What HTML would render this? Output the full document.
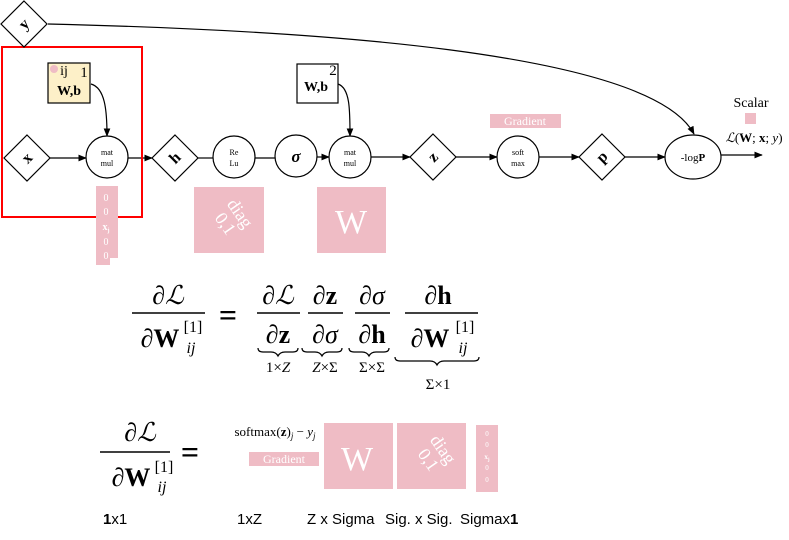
<!DOCTYPE html>
<html><head><meta charset="utf-8"><style>
html,body{margin:0;padding:0;background:#fff;}
svg{display:block;}
.serif{font-family:"Liberation Serif",serif;}
.sans{font-family:"Liberation Sans",sans-serif;}
</style></head><body>
<svg width="789" height="540" viewBox="0 0 789 540" xmlns="http://www.w3.org/2000/svg">
<defs>
<marker id="ar" viewBox="0 0 10 10" refX="9" refY="5" markerWidth="7" markerHeight="7" orient="auto"><path d="M0,1 L10,5 L0,9 z" fill="#000"/></marker>
</defs>
<g stroke="#000" stroke-width="1.2" fill="none">
<path d="M48,24 C300,30 650,50 694,134" marker-end="url(#ar)"/>
<path d="M91,84 C105,88 107,110 107,136" marker-end="url(#ar)"/>
<path d="M338,84 C350,88 350,110 350,136" marker-end="url(#ar)"/>
<line x1="50" y1="158" x2="86" y2="158" marker-end="url(#ar)"/>
<line x1="128" y1="158" x2="152" y2="158" marker-end="url(#ar)"/>
<line x1="198" y1="158" x2="213" y2="158"/>
<line x1="255" y1="158" x2="275" y2="158"/>
<line x1="317" y1="157" x2="329" y2="157" marker-end="url(#ar)"/>
<line x1="371" y1="157" x2="410" y2="157" marker-end="url(#ar)"/>
<line x1="456" y1="157" x2="497" y2="157" marker-end="url(#ar)"/>
<line x1="539" y1="157" x2="579" y2="157" marker-end="url(#ar)"/>
<line x1="625" y1="157" x2="665" y2="157" marker-end="url(#ar)"/>
<line x1="721" y1="155" x2="762" y2="155" marker-end="url(#ar)"/>
</g>
<rect x="2" y="47" width="140" height="170" fill="none" stroke="#ff0000" stroke-width="2"/>
<g stroke="#000" stroke-width="1.2" fill="#fff">
<polygon points="24,1 47,24 24,47 1,24"/>
<polygon points="27,135 50,158 27,181 4,158"/>
<polygon points="175,135 198,158 175,181 152,158"/>
<polygon points="433,134 456,157 433,180 410,157"/>
<polygon points="602,134 625,157 602,180 579,157"/>
<circle cx="107" cy="157" r="21"/>
<circle cx="234" cy="157" r="21"/>
<circle cx="296" cy="156" r="21"/>
<circle cx="350" cy="157" r="21"/>
<circle cx="518" cy="157" r="21"/>
<ellipse cx="693" cy="157" rx="28" ry="22"/>
<rect x="48" y="63" width="42" height="40" fill="#fdf0c8"/>
<rect x="297" y="64" width="41" height="39"/>
</g>
<g class="serif" font-weight="bold" font-size="16" text-anchor="middle">
<text x="24" y="29" transform="rotate(-45 24 24)">y</text>
<text x="27" y="163" transform="rotate(-45 27 158)">x</text>
<text x="175" y="163" transform="rotate(-45 175 158)">h</text>
<text x="433" y="162" transform="rotate(-45 433 157)">z</text>
<text x="602" y="162" transform="rotate(-45 602 157)">p</text>
<text x="296" y="162" font-style="italic" font-size="17">σ</text>
<text x="69" y="95" font-size="14">W,b</text>
<text x="316" y="91" font-size="14">W,b</text>
</g>
<circle cx="54" cy="69" r="4" fill="#efbcc5"/>
<g class="serif" font-size="8" text-anchor="middle">
<text x="64" y="75" font-size="14">ij</text>
<text x="84" y="77" font-size="15">1</text>
<text x="333" y="75" font-size="15">2</text>
<text x="107" y="155">mat</text><text x="107" y="166">mul</text>
<text x="234" y="155">Re</text><text x="234" y="166">Lu</text>
<text x="350" y="155">mat</text><text x="350" y="166">mul</text>
<text x="518" y="155">soft</text><text x="518" y="166">max</text>
<text x="693" y="161" font-size="11">-log<tspan font-weight="bold">P</tspan></text>
<text x="751" y="107" font-size="14">Scalar</text>
<text x="754" y="142" font-size="13"><tspan font-style="italic">ℒ</tspan>(<tspan font-weight="bold">W</tspan>; <tspan font-weight="bold">x</tspan>; <tspan font-style="italic">y</tspan>)</text>
</g>
<g fill="#efbcc5">
<rect x="490" y="114" width="71" height="14"/>
<rect x="745" y="113" width="11" height="11"/>
<path d="M96,186 H118 V258 H110 V265 H96 Z"/>
<rect x="194" y="187" width="70" height="66"/>
<rect x="317" y="187" width="69" height="66"/>
<rect x="249" y="452" width="70" height="14"/>
<rect x="324" y="423" width="69" height="66"/>
<rect x="397" y="423" width="69" height="66"/>
<rect x="476" y="425" width="22" height="67"/>
</g>
<g class="serif" fill="#fff" text-anchor="middle">
<text x="525" y="125" font-size="12">Gradient</text>
<text x="284" y="463" font-size="12">Gradient</text>
<g font-size="10"><text x="106" y="201">0</text><text x="106" y="215">0</text><text x="106" y="230" font-weight="bold">x<tspan font-size="6" dy="2">j</tspan></text><text x="106" y="245">0</text><text x="106" y="259">0</text></g>
<g font-size="7"><text x="487" y="436">0</text><text x="487" y="447">0</text><text x="487" y="459" font-weight="bold">x<tspan font-size="5" dy="2">j</tspan></text><text x="487" y="470">0</text><text x="487" y="482">0</text></g>
<text x="351" y="233" font-size="34">W</text>
<text x="357" y="470" font-size="34">W</text>
<g transform="translate(232 219) rotate(55)" font-size="18">
<text x="0" y="-4">diag</text><text x="0" y="14">0,1</text>
</g>
<g transform="translate(435 455) rotate(55)" font-size="18">
<text x="0" y="-4">diag</text><text x="0" y="14">0,1</text>
</g>
</g>
<g class="serif" font-size="26" text-anchor="middle">
<text x="168" y="304"><tspan font-style="italic">∂ℒ</tspan></text>
<line x1="132" y1="313" x2="205" y2="313" stroke="#000" stroke-width="1.6"/>
<text x="160" y="347"><tspan font-style="italic">∂</tspan><tspan font-weight="bold">W</tspan></text>
<text x="193" y="332" font-size="16">[1]</text>
<text x="191" y="353" font-size="16" font-style="italic">ij</text>
<text x="228" y="326" font-size="32" font-weight="bold">=</text>
<text x="278" y="304"><tspan font-style="italic">∂ℒ</tspan></text>
<line x1="257" y1="313" x2="300" y2="313" stroke="#000" stroke-width="1.6"/>
<text x="278" y="343"><tspan font-style="italic">∂</tspan><tspan font-weight="bold">z</tspan></text>
<text x="325" y="304"><tspan font-style="italic">∂</tspan><tspan font-weight="bold">z</tspan></text>
<line x1="308" y1="313" x2="343" y2="313" stroke="#000" stroke-width="1.6"/>
<text x="325" y="343" font-style="italic">∂σ</text>
<text x="372" y="304" font-style="italic">∂σ</text>
<line x1="355" y1="313" x2="390" y2="313" stroke="#000" stroke-width="1.6"/>
<text x="372" y="343"><tspan font-style="italic">∂</tspan><tspan font-weight="bold">h</tspan></text>
<text x="438" y="304"><tspan font-style="italic">∂</tspan><tspan font-weight="bold">h</tspan></text>
<line x1="405" y1="313" x2="478" y2="313" stroke="#000" stroke-width="1.6"/>
<text x="430" y="347"><tspan font-style="italic">∂</tspan><tspan font-weight="bold">W</tspan></text>
<text x="465" y="332" font-size="16">[1]</text>
<text x="463" y="353" font-size="16" font-style="italic">ij</text>
<g fill="none" stroke="#000" stroke-width="1.2">
<path d="M258,348 q0,4 5,4 h8 q5,0 7,4 q2,-4 7,-4 h8 q5,0 5,-4"/>
<path d="M302,348 q0,4 5,4 h8 q5,0 7,4 q2,-4 7,-4 h8 q5,0 5,-4"/>
<path d="M349,348 q0,4 5,4 h8 q5,0 7,4 q2,-4 7,-4 h8 q5,0 5,-4"/>
<path d="M395,357 q0,4 5,4 h30 q5,0 7,4 q2,-4 7,-4 h30 q5,0 5,-4"/>
</g>
<g font-size="15"><text x="278" y="372">1×<tspan font-style="italic">Z</tspan></text><text x="325" y="372"><tspan font-style="italic">Z</tspan>×Σ</text><text x="372" y="372">Σ×Σ</text><text x="438" y="389">Σ×1</text></g>
</g>
<g class="serif" font-size="26" text-anchor="middle">
<text x="140" y="441" font-style="italic">∂ℒ</text>
<line x1="100" y1="452" x2="170" y2="452" stroke="#000" stroke-width="1.6"/>
<text x="131" y="486"><tspan font-style="italic">∂</tspan><tspan font-weight="bold">W</tspan></text>
<text x="164" y="472" font-size="16">[1]</text>
<text x="162" y="492" font-size="16" font-style="italic">ij</text>
<text x="190" y="463" font-size="32" font-weight="bold">=</text>
<text x="275" y="436" font-size="13">softmax(<tspan font-weight="bold">z</tspan>)<tspan font-style="italic" font-size="9" dy="3">j</tspan><tspan dy="-3"> − </tspan><tspan font-style="italic">y</tspan><tspan font-style="italic" font-size="9" dy="3">j</tspan></text>
</g>
<g class="sans" font-size="15">
<text x="103" y="524"><tspan font-weight="bold">1</tspan>x1</text>
<text x="237" y="524">1xZ</text>
<text x="307" y="524">Z x Sigma</text>
<text x="385" y="524">Sig. x Sig.</text>
<text x="460" y="524">Sigmax<tspan font-weight="bold">1</tspan></text>
</g>
</svg>
</body></html>
